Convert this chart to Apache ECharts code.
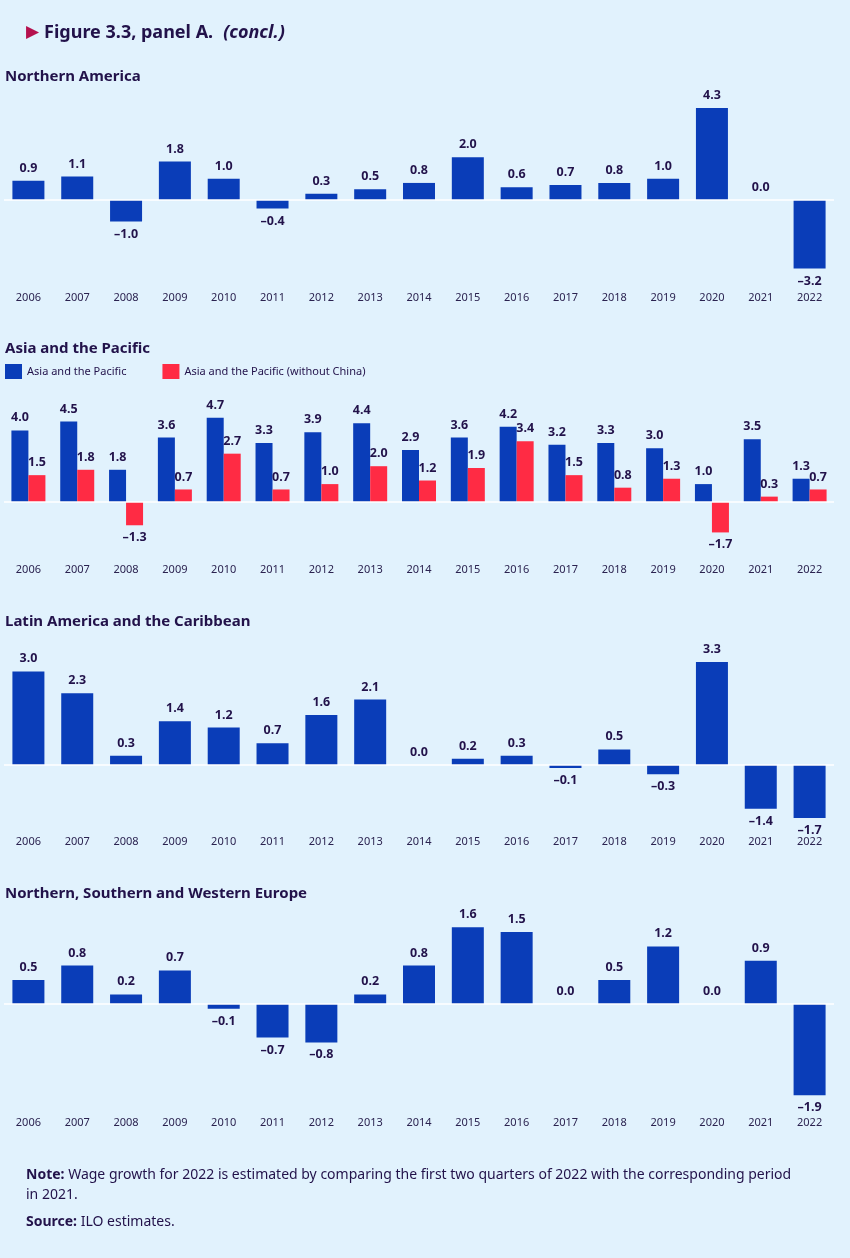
<!DOCTYPE html>
<html>
<head>
    <meta charset="UTF-8">
    <title>Figure 3.3, panel A (concl.)</title>
    <style>
        html, body { margin: 0; padding: 0; background: #e1f2fd; }
        #container { width: 850px; height: 1258px; }
    </style>
</head>
<body>
    <div id="container"></div>
    <script src="https://cdn.jsdelivr.net/npm/echarts@6/dist/echarts.min.js"></script>
    <script>
        var years = ['2006','2007','2008','2009','2010','2011','2012','2013','2014','2015','2016','2017','2018','2019','2020','2021','2022'];
        var northAmerica = [0.9, 1.1, -1.0, 1.8, 1.0, -0.4, 0.3, 0.5, 0.8, 2.0, 0.6, 0.7, 0.8, 1.0, 4.3, 0.0, -3.2];
        var asiaPacific = [4.0, 4.5, 1.8, 3.6, 4.7, 3.3, 3.9, 4.4, 2.9, 3.6, 4.2, 3.2, 3.3, 3.0, 1.0, 3.5, 1.3];
        var asiaNoChina = [1.5, 1.8, -1.3, 0.7, 2.7, 0.7, 1.0, 2.0, 1.2, 1.9, 3.4, 1.5, 0.8, 1.3, -1.7, 0.3, 0.7];
        var latinAmerica = [3.0, 2.3, 0.3, 1.4, 1.2, 0.7, 1.6, 2.1, 0.0, 0.2, 0.3, -0.1, 0.5, -0.3, 3.3, -1.4, -1.7];
        var europe = [0.5, 0.8, 0.2, 0.7, -0.1, -0.7, -0.8, 0.2, 0.8, 1.6, 1.5, 0.0, 0.5, 1.2, 0.0, 0.9, -1.9];

        var BLUE = '#0a3db8';
        var RED = '#ff2b44';
        var INK = '#22124a';
        var FONT = '"Noto Sans", sans-serif';

        // each panel: grid box, y range, label margin
        var panels = [
            { title: 'Northern America', titleTop: 69, top: 93, height: 182, min: -3.5, max: 5, margin: 17 },
            { title: 'Asia and the Pacific', titleTop: 341, top: 412.5, height: 125.3, min: -2, max: 5, margin: 27 },
            { title: 'Latin America and the Caribbean', titleTop: 614, top: 655.8, height: 171.6, min: -2, max: 3.5, margin: 9 },
            { title: 'Northern, Southern and Western Europe', titleTop: 886, top: 908, height: 192, min: -2, max: 2, margin: 17 }
        ];

        function fmt(v) {
            return v < 0 ? '\u2013' + Math.abs(v).toFixed(1) : v.toFixed(1);
        }
        function toItems(arr) {
            return arr.map(function (v) {
                return { value: v, label: { position: v < 0 ? 'bottom' : 'top' } };
            });
        }

        var grids = [], xAxes = [], yAxes = [], titles = [], series = [];

        titles.push({
            left: 26, top: 24, padding: 0,
            text: '{tri|\u25B6} {b|Figure 3.3, panel A.}  {i|(concl.)}',
            textStyle: {
                rich: {
                    tri: { color: '#b5114e', fontSize: 17, fontFamily: 'DejaVu Sans', verticalAlign: 'middle' },
                    b: { color: INK, fontSize: 18, fontWeight: 'bold', fontFamily: FONT },
                    i: { color: INK, fontSize: 18, fontWeight: 'bold', fontStyle: 'italic', fontFamily: FONT }
                }
            }
        });

        panels.forEach(function (p, i) {
            titles.push({
                left: 5, top: p.titleTop, padding: 0, text: p.title,
                textStyle: { color: INK, fontSize: 15, fontWeight: 'bold', fontFamily: FONT }
            });
            grids.push({ left: 4, right: 16, top: p.top, height: p.height });
            xAxes.push({
                type: 'category', gridIndex: i, data: years,
                axisLine: { show: false }, axisTick: { show: false },
                axisLabel: { margin: p.margin, color: '#2b2350', fontSize: 11, fontFamily: FONT }
            });
            yAxes.push({
                type: 'value', gridIndex: i, min: p.min, max: p.max, show: false,
                splitLine: { show: false }
            });
        });

        var labelStyle = {
            show: true, color: INK, fontSize: 12.5, fontWeight: 'bold', fontFamily: FONT,
            distance: 6, formatter: function (p) { return fmt(p.value); }
        };
        var zeroLine = {
            silent: true, symbol: 'none', label: { show: false },
            lineStyle: { color: '#ffffff', width: 1.5, type: 'solid' },
            data: [{ yAxis: 0 }]
        };

        series.push({
            name: 'Northern America', type: 'bar', xAxisIndex: 0, yAxisIndex: 0,
            data: toItems(northAmerica), barWidth: 32, itemStyle: { color: BLUE },
            label: labelStyle, markLine: zeroLine
        });
        series.push({
            name: 'Asia and the Pacific', type: 'bar', xAxisIndex: 1, yAxisIndex: 1,
            data: toItems(asiaPacific), barWidth: 17, barGap: '0%', itemStyle: { color: BLUE },
            label: labelStyle, markLine: zeroLine
        });
        series.push({
            name: 'Asia and the Pacific (without China)', type: 'bar', xAxisIndex: 1, yAxisIndex: 1,
            data: toItems(asiaNoChina), barWidth: 17, barGap: '0%', itemStyle: { color: RED },
            label: labelStyle
        });
        series.push({
            name: 'Latin America and the Caribbean', type: 'bar', xAxisIndex: 2, yAxisIndex: 2,
            data: toItems(latinAmerica), barWidth: 32, itemStyle: { color: BLUE },
            label: labelStyle, markLine: zeroLine
        });
        series.push({
            name: 'Northern, Southern and Western Europe', type: 'bar', xAxisIndex: 3, yAxisIndex: 3,
            data: toItems(europe), barWidth: 32, itemStyle: { color: BLUE },
            label: labelStyle, markLine: zeroLine
        });

        var myChart = echarts.init(document.getElementById('container'));
        myChart.setOption({
            backgroundColor: '#e1f2fd',
            animation: false,
            title: titles,
            legend: {
                data: ['Asia and the Pacific', 'Asia and the Pacific (without China)'],
                left: 5, top: 364, padding: 0, itemGap: 36,
                itemWidth: 17, itemHeight: 15, icon: 'rect',
                textStyle: { color: INK, fontSize: 11, fontFamily: FONT }
            },
            grid: grids,
            xAxis: xAxes,
            yAxis: yAxes,
            series: series,
            graphic: [
                {
                    type: 'text', left: 26, top: 1165,
                    style: {
                        text: '{b|Note:} Wage growth for 2022 is estimated by comparing the first two quarters of 2022 with the corresponding period\nin 2021.',
                        fill: INK, fontSize: 14, lineHeight: 20, fontFamily: FONT,
                        rich: { b: { fontWeight: 'bold', fontSize: 14, fontFamily: FONT, fill: INK } }
                    }
                },
                {
                    type: 'text', left: 26, top: 1212,
                    style: {
                        text: '{b|Source:} ILO estimates.',
                        fill: INK, fontSize: 14, lineHeight: 20, fontFamily: FONT,
                        rich: { b: { fontWeight: 'bold', fontSize: 14, fontFamily: FONT, fill: INK } }
                    }
                }
            ]
        });
    </script>
</body>
</html>
